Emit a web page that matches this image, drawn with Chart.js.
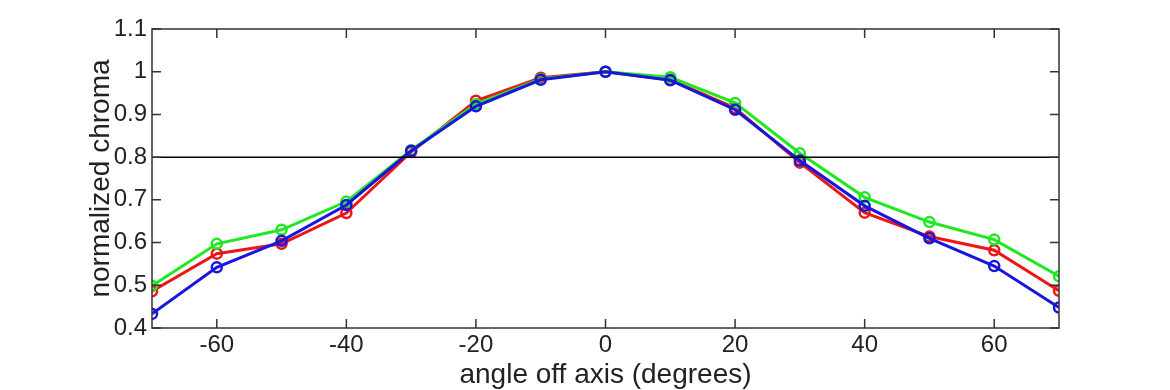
<!DOCTYPE html>
<html>
<head>
<meta charset="utf-8">
<script src="https://cdn.jsdelivr.net/npm/chart.js@4.4.1/dist/chart.umd.min.js"></script>
<style>
  html, body { margin: 0; padding: 0; background: #fff; }
  #wrap { width: 1170px; height: 390px; }
</style>
</head>
<body>
<div id="wrap"><canvas id="chromaChart"></canvas></div>
<script>
// angles (degrees) and normalized chroma per channel
const angles = [-70, -60, -50, -40, -30, -20, -10, 0, 10, 20, 30, 40, 50, 60, 70];
const redChroma = [0.486, 0.574, 0.597, 0.669, 0.812, 0.932, 0.986, 1.0, 0.981, 0.915, 0.787, 0.670, 0.614, 0.582, 0.487];
const greenChroma = [0.499, 0.597, 0.630, 0.696, 0.816, 0.924, 0.983, 1.0, 0.987, 0.927, 0.809, 0.706, 0.648, 0.607, 0.521];
const blueChroma = [0.433, 0.542, 0.604, 0.688, 0.815, 0.919, 0.981, 1.0, 0.980, 0.911, 0.792, 0.686, 0.610, 0.545, 0.448];
const xTicks = [-60, -40, -20, 0, 20, 40, 60];
const yTicks = [0.4, 0.5, 0.6, 0.7, 0.8, 0.9, 1, 1.1];
const threshold = 0.8;

function toPoints(vals) {
    return angles.map((a, i) => ({ x: a, y: vals[i] }));
}

function series(label, vals, color, order) {
    return {
        label: label,
        data: toPoints(vals),
        borderColor: color,
        backgroundColor: 'rgba(0,0,0,0)',
        borderWidth: 3,
        pointRadius: 5,
        pointBorderWidth: 2.5,
        pointBorderColor: color,
        pointBackgroundColor: 'rgba(0,0,0,0)',
        tension: 0,
        order: order
    };
}

// frame, inward tick marks and the 0.8 reference line
const frame = {
    id: 'frame',
    afterDatasetsDraw(chart) {
        const { ctx, chartArea: a, scales: { x, y } } = chart;
        ctx.save();
        ctx.strokeStyle = '#000';
        ctx.lineWidth = 1.5;
        const yl = y.getPixelForValue(threshold);
        ctx.beginPath();
        ctx.moveTo(a.left, yl);
        ctx.lineTo(a.right, yl);
        ctx.stroke();

        ctx.strokeStyle = '#333';
        ctx.lineWidth = 1.5;
        ctx.strokeRect(a.left, a.top, a.right - a.left, a.bottom - a.top);
        const len = 9;
        ctx.beginPath();
        xTicks.forEach(v => {
            const px = x.getPixelForValue(v);
            ctx.moveTo(px, a.bottom); ctx.lineTo(px, a.bottom - len);
            ctx.moveTo(px, a.top); ctx.lineTo(px, a.top + len);
        });
        yTicks.forEach(v => {
            const py = y.getPixelForValue(v);
            ctx.moveTo(a.left, py); ctx.lineTo(a.left + len, py);
            ctx.moveTo(a.right, py); ctx.lineTo(a.right - len, py);
        });
        ctx.stroke();
        ctx.restore();
    }
};

new Chart(document.getElementById('chromaChart'), {
    type: 'line',
    data: {
        datasets: [
            series('red', redChroma, 'rgb(236,22,22)', 3),
            series('green', greenChroma, 'rgb(32,232,32)', 2),
            series('blue', blueChroma, 'rgb(22,22,222)', 1)
        ]
    },
    options: {
        responsive: true,
        maintainAspectRatio: false,
        animation: false,
        layout: { padding: { top: 29, right: 111, bottom: 0, left: 82 } },
        plugins: { legend: { display: false }, tooltip: { enabled: false } },
        scales: {
            x: {
                type: 'linear',
                min: -70,
                max: 70,
                grid: { display: false, drawTicks: false },
                border: { display: false },
                afterBuildTicks(scale) { scale.ticks = xTicks.map(v => ({ value: v })); },
                afterFit(scale) { scale.height = 62; },
                ticks: {
                    color: '#222',
                    padding: 3,
                    maxRotation: 0,
                    font: { family: 'Liberation Sans', size: 24 }
                },
                title: {
                    display: true,
                    text: 'angle off axis (degrees)',
                    color: '#222',
                    padding: { top: 0, bottom: -2 },
                    font: { family: 'Liberation Sans', size: 28 }
                }
            },
            y: {
                min: 0.4,
                max: 1.1,
                grid: { display: false, drawTicks: false },
                border: { display: false },
                afterBuildTicks(scale) { scale.ticks = yTicks.map(v => ({ value: v })); },
                afterFit(scale) { scale.width = 70; },
                ticks: {
                    color: '#222',
                    padding: 5,
                    font: { family: 'Liberation Sans', size: 24 },
                    callback: v => String(Math.round(v * 10) / 10)
                },
                title: {
                    display: true,
                    text: 'normalized chroma',
                    color: '#222',
                    padding: { top: 2, bottom: 0 },
                    font: { family: 'Liberation Sans', size: 28 }
                }
            }
        }
    },
    plugins: [frame]
});
</script>
</body>
</html>
